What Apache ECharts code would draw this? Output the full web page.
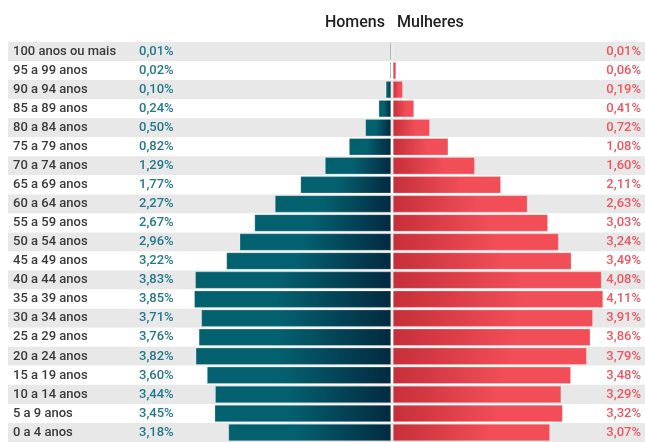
<!DOCTYPE html>
<html>
<head>
<meta charset="utf-8">
<script src="https://cdn.jsdelivr.net/npm/echarts@6/dist/echarts.min.js"></script>
<style>html,body{margin:0;padding:0;background:#fff}#c{width:645px;height:442px}</style>
</head>
<body>
<div id="c"></div>
<script>
const categories = ['100 anos ou mais','95 a 99 anos','90 a 94 anos','85 a 89 anos','80 a 84 anos','75 a 79 anos','70 a 74 anos','65 a 69 anos','60 a 64 anos','55 a 59 anos','50 a 54 anos','45 a 49 anos','40 a 44 anos','35 a 39 anos','30 a 34 anos','25 a 29 anos','20 a 24 anos','15 a 19 anos','10 a 14 anos','5 a 9 anos','0 a 4 anos'];
const homens = [0.01,0.02,0.10,0.24,0.50,0.82,1.29,1.77,2.27,2.67,2.96,3.22,3.83,3.85,3.71,3.76,3.82,3.60,3.44,3.45,3.18];
const mulheres = [0.01,0.06,0.19,0.41,0.72,1.08,1.60,2.11,2.63,3.03,3.24,3.49,4.08,4.11,3.91,3.86,3.79,3.48,3.29,3.32,3.07];
const seriesNames = ['Homens','Mulheres'];

const fmt = v => v.toFixed(2).replace('.', ',') + '%';
const FONT = 'Roboto';
const PX_PER_UNIT = 51.1;

const chart = echarts.init(document.getElementById('c'), null, {renderer:'canvas'});
const hiddenX = {show:false, type:'value', min:0, max:1};
const baseY = (gridIndex, extra) => Object.assign({
  type:'category', data:categories, inverse:true, gridIndex,
  axisLine:{show:false}, axisTick:{show:false}, splitLine:{show:false}
}, extra);

chart.setOption({
  animation:false,
  title:[
    {text:seriesNames[0], right:260, top:15, padding:0, textStyle:{fontFamily:FONT, fontSize:16, fontWeight:500, color:'#222'}},
    {text:seriesNames[1], left:397, top:15, padding:0, textStyle:{fontFamily:FONT, fontSize:16, fontWeight:500, color:'#222'}}
  ],
  grid:[
    {left:8, right:0, top:42, bottom:0},
    {left:139, right:0, top:42, bottom:0},
    {left:8, width:383, top:42, bottom:0},
    {left:393, right:0, top:42, bottom:0}
  ],
  xAxis:[
    Object.assign({gridIndex:0}, hiddenX),
    Object.assign({gridIndex:1}, hiddenX),
    {gridIndex:2, type:'value', inverse:true, min:0, max:383/PX_PER_UNIT, show:false},
    {gridIndex:3, type:'value', min:0, max:252/PX_PER_UNIT, show:false}
  ],
  yAxis:[
    baseY(0, {position:'left', splitArea:{show:true, areaStyle:{color:['#e8e8e8','#ffffff']}},
      axisLabel:{inside:true, align:'left', margin:5, fontFamily:FONT, fontSize:13, fontWeight:500, color:'#3a3a3a'}}),
    baseY(0, {position:'right',
      axisLabel:{inside:true, align:'right', margin:4, fontFamily:FONT, fontSize:13, fontWeight:500, color:'#f0565f',
        formatter:(v,i)=>fmt(mulheres[i])}}),
    baseY(1, {position:'left',
      axisLabel:{inside:true, align:'left', margin:0, fontFamily:FONT, fontSize:13, fontWeight:500, color:'#23798b',
        formatter:(v,i)=>fmt(homens[i])}}),
    baseY(2, {show:false}),
    baseY(3, {show:false})
  ],
  series:[
    {name:seriesNames[0], type:'bar', xAxisIndex:2, yAxisIndex:3, data:homens, barWidth:17, barMinHeight:1,
      itemStyle:{borderColor:'rgba(255,255,255,0.5)', borderWidth:0.5,
        color:new echarts.graphic.LinearGradient(0,0,1,0,[{offset:0,color:'#03606f'},{offset:0.42,color:'#03606f'},{offset:1,color:'#032a40'}])}},
    {name:seriesNames[1], type:'bar', xAxisIndex:3, yAxisIndex:4, data:mulheres, barWidth:17,
      itemStyle:{borderColor:'rgba(255,255,255,0.5)', borderWidth:0.5,
        color:new echarts.graphic.LinearGradient(0,0,1,0,[{offset:0,color:'#c62f39'},{offset:0.62,color:'#f14e57'},{offset:1,color:'#f14e57'}])}}
  ]
});
</script>
</body>
</html>
